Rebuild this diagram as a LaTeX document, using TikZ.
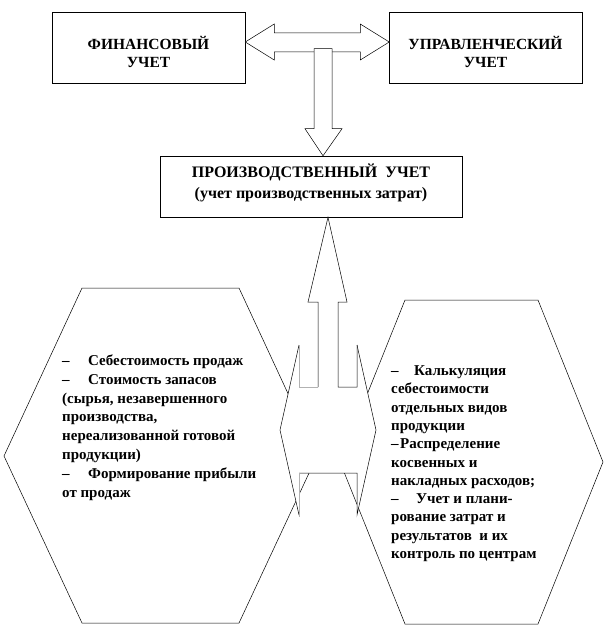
\documentclass[tikz,border=0pt]{standalone}
\usepackage{fontspec}
\setmainfont{Liberation Serif}
\usetikzlibrary{positioning,calc}

\tikzset{
  box/.style={draw=black, line width=0.5pt, fill=white, inner sep=0pt},
  boxtext/.style={align=center, inner sep=0pt, font=\bfseries\fontsize{15.5}{18}\selectfont},
  blockarrow/.style={draw=black, line width=0.5pt, fill=white, line join=miter},
  hexagon/.style={draw=black, line width=0.5pt, fill=white},
  faint/.style={draw=gray!60, line width=0.5pt},
  listtext/.style={align=left, anchor=north west, inner sep=0pt}
}
\newcommand{\lead}[1]{\makebox[#1][l]{--}}

\begin{document}
\begin{tikzpicture}[x=1pt,y=-1pt]
    \useasboundingbox (0,0) rectangle (608,636);

    % Top boxes
    \node[box, minimum width=193, minimum height=71] (fin) at (148.5,47.5) {};
    \node[box, minimum width=193, minimum height=71] (upr) at (485.5,47.5) {};
    \node[box, minimum width=302, minimum height=61] (prod) at (311,186.5) {};
    \node[boxtext] (fintext) at ($(fin.center)+(0,4.5)$) {ФИНАНСОВЫЙ\\УЧЕТ};
    \node[boxtext] (uprtext) at ($(upr.center)+(0,4.5)$) {УПРАВЛЕНЧЕСКИЙ\\УЧЕТ};
    \node[boxtext, font=\bfseries\fontsize{16}{21}\selectfont] (prodtext) at ($(prod.center)+(0,-3.5)$)
        {ПРОИЗВОДСТВЕННЫЙ\ \ УЧЕТ\\(учет производственных затрат)};

    % Double arrow between the top boxes
    \coordinate (dl) at ($(fin.east)+(0,-5.5)$);
    \draw[blockarrow] (dl) -- ++(29,-18) -- ++(0,9) -- ++(86,0) -- ++(0,-9) -- ++(29,18)
        -- ++(-29,18) -- ++(0,-8) -- ++(-86,0) -- ++(0,8) -- cycle;

    % Down arrow to the production box
    \coordinate (dt) at ($(prod.north)+(12,0)$);
    \draw[blockarrow] (dt) -- ++(-18,-27) -- ++(9,0) -- ++(0,-80) -- ++(18,0) -- ++(0,80)
        -- ++(10,0) -- cycle;

    % Hexagons
    \draw[hexagon] (82,288) -- (239,288) -- (317,456) -- (239,623) -- (82,623) -- (4,456) -- cycle;
    \draw[hexagon] (405,300) -- (538,300) -- (603,462) -- (538,624) -- (405,624) -- (340,462) -- cycle;

    % Middle piece
    \fill[white] (299,345) -- (280,430) -- (299,515) -- (299,473) -- (357,473) -- (357,515)
        -- (376,430) -- (357,345) -- cycle;
    \draw[line width=0.5pt] (299,345) -- (280,430) -- (299,515);
    \draw[line width=0.5pt] (357,345) -- (376,430) -- (357,515) -- (357,473) -- (299,473);
    \draw[faint] (299,473) -- (299,517);

    % Up arrow from the middle
    \coordinate (ut) at ($(prod.south)+(17,0)$);
    \fill[white] (ut) -- ++(19,86) -- ++(-9,0) -- ++(0,85) -- ++(19,0) -- ++(0,-42)
        -- ++(-58,0) -- ++(0,42) -- ++(19,0) -- ++(0,-85) -- ++(-10,0) -- cycle;
    \draw[line width=0.5pt] (318,387) -- (318,302) -- (308,302) -- (ut) -- (347,302)
        -- (338,302) -- (338,387) -- (357,387) -- (357,345);
    \draw[faint] (299,345) -- (299,387) -- (318,387);

    % Texts in the hexagons
    \node[listtext, font=\bfseries\fontsize{15}{18.8}\selectfont] (costs) at (62,354.5)
        {\lead{26pt}Себестоимость продаж\\
        \lead{26pt}Стоимость запасов\\
        (сырья, незавершенного\\
        производства,\\
        нереализованной готовой\\
        продукции)\\
        \lead{26pt}Формирование прибыли\\
        от продаж};
    \node[listtext, font=\bfseries\fontsize{15}{18.3}\selectfont] (calc) at (391,365.5)
        {\lead{23pt}Калькуляция\\
        себестоимости\\
        отдельных видов\\
        продукции\\
        \lead{9pt}Распределение\\
        косвенных и\\
        накладных расходов;\\
        \lead{25pt}Учет и плани-\\
        рование затрат и\\
        результатов\ \ и их\\
        контроль по центрам};
\end{tikzpicture}
\end{document}
